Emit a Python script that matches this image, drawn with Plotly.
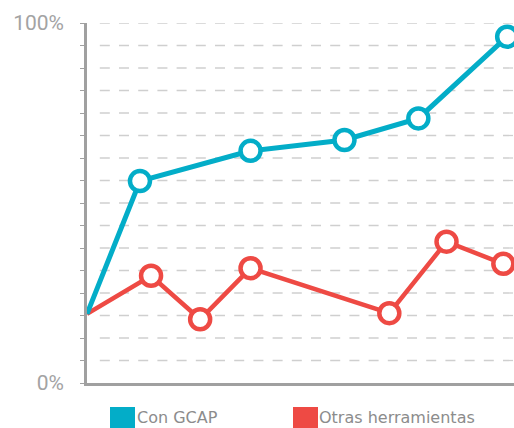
import plotly.graph_objects as go

# Data (x: relative position 0-100, y: percent)
gcap_x = [0, 12.4, 38.3, 60.3, 77.6, 98.4]
gcap_y = [19.2, 56.1, 64.5, 67.5, 73.5, 96.2]
otras_x = [0, 15.0, 26.5, 38.3, 70.8, 84.2, 97.5]
otras_y = [19.2, 29.8, 17.7, 31.9, 19.4, 39.25, 33.1]
series_names = ["Con GCAP", "Otras herramientas"]
tick_vals = [i * 6.25 for i in range(17)]
tick_text = ["0%"] + [""] * 15 + ["100%"]

BLUE = "#03adc8"
RED = "#ee4a44"
GRAY = "#a0a0a0"

def marker_sizes(n):
    return [0] + [20] * (n - 1)

def marker_lw(n):
    return [0] + [4.5] * (n - 1)

fig = go.Figure()
fig.add_trace(go.Scatter(
    x=otras_x, y=otras_y, mode="lines+markers", name=series_names[1],
    line=dict(color=RED, width=4.5),
    marker=dict(size=marker_sizes(len(otras_x)), color="white", opacity=1,
                line=dict(color=RED, width=marker_lw(len(otras_x)))),
    showlegend=False, hoverinfo="skip"))
fig.add_trace(go.Scatter(
    x=gcap_x, y=gcap_y, mode="lines+markers", name=series_names[0],
    line=dict(color=BLUE, width=5),
    marker=dict(size=marker_sizes(len(gcap_x)), color="white", opacity=1,
                line=dict(color=BLUE, width=marker_lw(len(gcap_x)))),
    showlegend=False, hoverinfo="skip"))

shapes = []
for v in tick_vals[1:]:
    shapes.append(dict(type="line", xref="paper", yref="y", x0=0.03, x1=1, y0=v, y1=v,
                       line=dict(color="#cfcfcf", width=1.3, dash="10px,9.2px"), layer="below"))

# legend swatches
legend_items = [(0.0539, 0.1124, 0.1150, BLUE, series_names[0]),
                (0.4824, 0.5410, 0.5410, RED, series_names[1])]
annotations = []
for x0, x1, tx, col, name in legend_items:
    shapes.append(dict(type="rect", xref="paper", yref="paper", x0=x0, x1=x1,
                       y0=-0.125, y1=-0.0667, fillcolor=col, line=dict(width=0)))
    annotations.append(dict(xref="paper", yref="paper", x=tx, y=-0.097, text=name,
                            showarrow=False, xanchor="left", yanchor="middle", borderpad=0,
                            font=dict(family="DejaVu Sans", size=16, color="#8c8c8c")))

fig.update_layout(
    width=514, height=428,
    margin=dict(l=87, r=0, t=23, b=45),
    paper_bgcolor="white", plot_bgcolor="white",
    showlegend=False,
    xaxis=dict(range=[0, 100], showgrid=False, zeroline=False, showticklabels=False,
               showline=True, linecolor=GRAY, linewidth=2.6, ticks=""),
    yaxis=dict(range=[0, 100], showgrid=False, zeroline=False,
               tickvals=tick_vals, ticktext=tick_text, ticks="outside", ticklen=4,
               tickcolor=GRAY, tickwidth=1.3, showline=True, linecolor=GRAY, linewidth=2.6,
               ticklabelstandoff=12,
               tickfont=dict(family="Roboto", size=21, color="#a3a3a3")),
    yaxis2=dict(range=[0, 100], overlaying="y", side="left", anchor="x",
                showgrid=False, zeroline=False, showline=False, showticklabels=False,
                tickvals=tick_vals, ticks="inside", ticklen=3, tickcolor=GRAY, tickwidth=1.3),
    shapes=shapes, annotations=annotations,
)

fig.write_html("out.html", config={"displayModeBar": False},
               post_script="document.body.style.margin='0';document.body.style.overflow='hidden';")
